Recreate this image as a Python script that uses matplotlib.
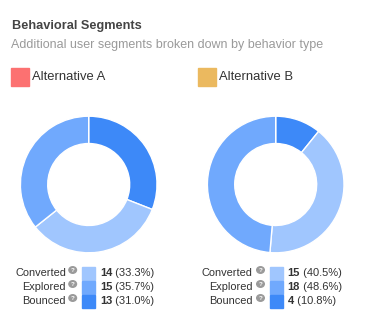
import matplotlib.pyplot as plt
import numpy as np

W, H = 385, 332

title = 'Behavioral Segments'
subtitle = 'Additional user segments broken down by behavior type'
alternatives = ['Alternative A', 'Alternative B']
alt_colors = ['#fc7171', '#ebb95f']
segments = ['Converted', 'Explored', 'Bounced']
seg_colors = ['#a0c6fe', '#70a9fd', '#3d89f8']
alt_a = [14, 15, 13]
alt_b = [15, 18, 4]

plt.rcParams['font.family'] = ['Liberation Sans', 'DejaVu Sans']


def fx(x):
    return x / W


def fy(y):
    return 1 - y / H


def draw_donut(fig, values, cx, cy, r):
    ax = fig.add_axes([fx(cx - r), fy(cy + r), 2 * r / W, 2 * r / H])
    # drawn from 12 o'clock, clockwise, starting with the last segment
    order = [2, 0, 1]
    ax.pie([values[i] for i in order], colors=[seg_colors[i] for i in order],
           startangle=90, counterclock=False, radius=1,
           wedgeprops=dict(width=0.4, edgecolor='white', linewidth=1))
    ax.set_xlim(-1, 1)
    ax.set_ylim(-1, 1)
    ax.set_aspect('auto')
    ax.axis('off')


def draw_table(fig, renderer, values, label_right, icon_x, sw_left, val_left):
    total = sum(values)
    rows_y = [273, 287, 301]
    for name, v, c, y in zip(segments, values, seg_colors, rows_y):
        fig.text(fx(label_right), fy(y), name, ha='right', va='center',
                 fontsize=7.9, color='#333333')
        # little help icon
        fig.patches.append(plt.Circle((fx(icon_x), fy(y - 3)), 3.8 / W,
                                      transform=fig.transFigure, color='#9a9a9a'))
        fig.text(fx(icon_x), fy(y - 3), '?', ha='center', va='center',
                 fontsize=4.6, color='white', fontweight='bold')
        fig.patches.append(plt.Rectangle((fx(sw_left), fy(y + 6.7)), 13 / W, 13.2 / H,
                                         transform=fig.transFigure, color=c))
        t = fig.text(fx(val_left), fy(y), str(v), ha='left', va='center',
                     fontsize=8.0, color='#333333', fontweight='bold')
        bb = t.get_window_extent(renderer)
        fig.text(bb.x1 / fig.dpi / fig.get_figwidth(), fy(y),
                 ' (%.1f%%)' % (100.0 * v / total), ha='left', va='center',
                 fontsize=8.0, color='#333333')


fig = plt.figure(figsize=(W / 100, H / 100), dpi=100)
renderer = fig.canvas.get_renderer()

fig.text(fx(11.5), fy(26.5), title, ha='left', va='center', fontsize=9.2,
         fontweight='bold', color='#444444')
fig.text(fx(11), fy(45), subtitle, ha='left', va='center', fontsize=9.0,
         color='#9a9a9a')

for name, c, x0 in zip(alternatives, alt_colors, [11, 198]):
    fig.patches.append(plt.Rectangle((fx(x0), fy(86)), 18 / W, 18 / H,
                                     transform=fig.transFigure, color=c))
    fig.text(fx(x0 + 21), fy(77), name, ha='left', va='center', fontsize=9.4,
             color='#333333')

draw_donut(fig, alt_a, 88.7, 184.5, 68.3)
draw_donut(fig, alt_b, 275.7, 184.5, 68.3)

draw_table(fig, renderer, alt_a, 66, 72.7, 82, 100)
draw_table(fig, renderer, alt_b, 252.5, 260.5, 270, 287.5)

fig.savefig('out.png', dpi=100)
